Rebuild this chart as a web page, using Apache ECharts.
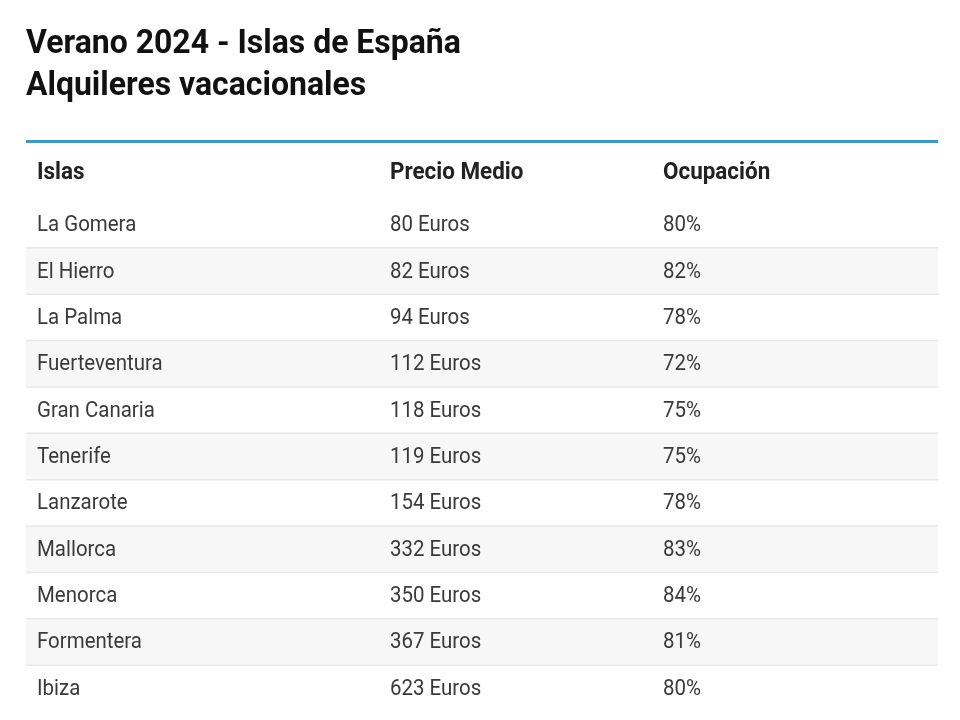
<!DOCTYPE html>
<html><head><meta charset="utf-8">
<script src="https://cdn.jsdelivr.net/npm/echarts@6/dist/echarts.min.js"></script>
<style>html,body{margin:0;padding:0;background:#fff}#c{width:960px;height:720px}</style>
</head><body><div id="c"></div>
<script>
const titleLines = ['Verano 2024 - Islas de España', 'Alquileres vacacionales'];
const headers = ['Islas', 'Precio Medio', 'Ocupación'];
const islands = ['La Gomera', 'El Hierro', 'La Palma', 'Fuerteventura', 'Gran Canaria', 'Tenerife', 'Lanzarote', 'Mallorca', 'Menorca', 'Formentera', 'Ibiza'];
const prices = [80, 82, 94, 112, 118, 119, 154, 332, 350, 367, 623];
const occupancy = [80, 82, 78, 72, 75, 75, 78, 83, 84, 81, 80];
const priceUnit = 'Euros';

// layout
const colOffsets = [11, 364, 637];
const FONT = 'Roboto, "Noto Sans", sans-serif';

const chart = echarts.init(document.getElementById('c'), null, {renderer: 'canvas'});

function txt(x, y, text, size, weight, color, sx) {
  return {
    type: 'text', x: x, y: y, scaleX: sx, scaleY: 1,
    style: {x: 0, y: 0, text: text, fontSize: size, fontWeight: weight, fill: color,
            fontFamily: FONT, verticalAlign: 'middle', align: 'left'}
  };
}

const rows = islands.map((n, i) => [0, i]);

chart.setOption({
  animation: false,
  backgroundColor: '#fff',
  grid: {left: 26, right: 22, top: 201, bottom: 9, containLabel: false},
  xAxis: {type: 'value', min: 0, max: 1, show: false},
  yAxis: {type: 'category', data: islands, inverse: true, show: false},
  graphic: [
    txt(26, 44, titleLines[0], 34, 'bold', '#111', 0.94),
    txt(26, 86, titleLines[1], 34, 'bold', '#111', 0.94),
    {type: 'line', shape: {x1: 26, y1: 141.5, x2: 938, y2: 141.5},
     style: {stroke: '#2b9fd3', lineWidth: 3}},
    txt(26 + colOffsets[0], 173, headers[0], 24, 'bold', '#222', 0.935),
    txt(26 + colOffsets[1], 173, headers[1], 24, 'bold', '#222', 0.935),
    txt(26 + colOffsets[2], 173, headers[2], 24, 'bold', '#222', 0.935)
  ],
  series: [{
    type: 'custom',
    data: rows,
    encode: {x: 0, y: 1},
    renderItem: function (params, api) {
      const i = api.value(1);
      const pt = api.coord([0, i]);
      const h = api.size([0, 1])[1];
      const cs = params.coordSys;
      const top = pt[1] - h / 2;
      const children = [];
      if (i % 2 === 1) {
        children.push({type: 'rect', shape: {x: cs.x, y: top, width: cs.width, height: h},
                       style: {fill: '#f7f7f7'}});
      }
      if (i > 0) {
        children.push({type: 'line', shape: {x1: cs.x, y1: top + 0.5, x2: cs.x + cs.width, y2: top + 0.5},
                       style: {stroke: '#e8e8e8', lineWidth: 1.5}});
      }
      const vals = [islands[i], prices[i] + ' ' + priceUnit, occupancy[i] + '%'];
      vals.forEach((v, j) => children.push(txt(cs.x + colOffsets[j], pt[1] + 1.5, v, 22, 'normal', '#3a3a3a', 0.93)));
      return {type: 'group', children: children};
    }
  }]
});
</script></body></html>
